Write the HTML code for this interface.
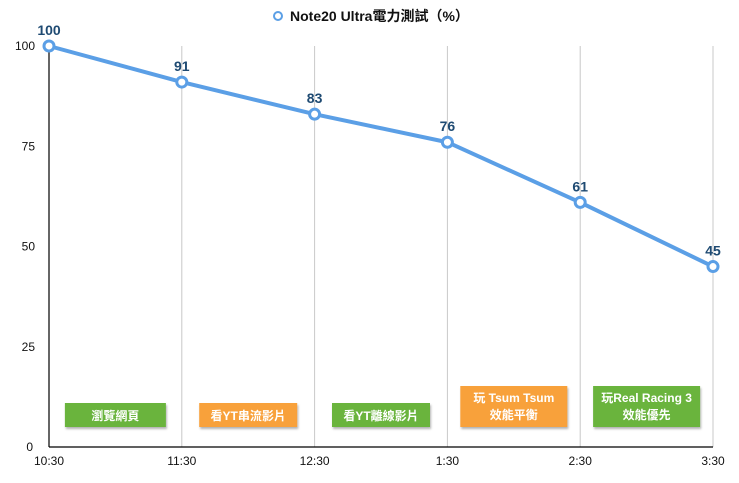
<!DOCTYPE html>
<html><head><meta charset="utf-8"><style>
body{margin:0;background:#fff;}
svg text{font-family:"Liberation Sans","Noto Sans CJK TC",sans-serif;}
</style></head><body>
<svg width="739" height="478" viewBox="0 0 739 478">
<defs><filter id="sh" x="-10%" y="-10%" width="130%" height="140%"><feDropShadow dx="1" dy="2" stdDeviation="1" flood-opacity="0.3"/></filter></defs>
<g id="legend">
<circle cx="278" cy="16" r="4" fill="#fff" stroke="#5b9fe6" stroke-width="2"/>
<text x="290" y="21" font-size="14" font-weight="bold" fill="#111">Note20 Ultra電力測試（%）</text>
</g>
<g id="grid"></g><g id="axes"></g><g id="boxes"></g><g id="series"></g>
</svg>
<script>
const categories=["10:30","11:30","12:30","1:30","2:30","3:30"];
const values=[100,91,83,76,61,45];
const yTicks=[0,25,50,75,100];
const notes=[["瀏覽網頁"],["看YT串流影片"],["看YT離線影片"],["玩 Tsum Tsum","效能平衡"],["玩Real Racing 3","效能優先"]];
const noteColors=["#6ab43e","#f8a13a","#6ab43e","#f8a13a","#6ab43e"];
const NS="http://www.w3.org/2000/svg";
const x0=49,x1=713,y0=447,y1=46;
const xs=i=>x0+(x1-x0)*i/(categories.length-1);
const ys=v=>y0-(y0-y1)*v/100;
function mk(t,a,p,txt){const e=document.createElementNS(NS,t);for(const k in a)e.setAttribute(k,a[k]);if(txt!=null)e.textContent=txt;p.appendChild(e);return e;}
const grid=document.getElementById('grid'),axes=document.getElementById('axes'),boxes=document.getElementById('boxes'),ser=document.getElementById('series');
categories.forEach((c,i)=>{
 if(i>0){const g=mk('line',{x1:xs(i),x2:xs(i),y1:y1,y2:y0,stroke:'#c8c8c8','stroke-width':1},grid);
 
 }
 const t=mk('text',{x:xs(i),y:y0+18,'font-size':12,'text-anchor':'middle',fill:'#111'},axes,c);
 
 
});
yTicks.forEach(v=>{const t=mk('text',{x:v===0?33:35,y:ys(v)+4,'font-size':12,'text-anchor':'end',fill:'#111'},axes,v);
 
 });
const ya=mk('line',{x1:x0,x2:x0,y1:y1,y2:y0,stroke:'#000','stroke-width':1.2},axes);


const xa=mk('line',{x1:x0,x2:x1,y1:y0,y2:y0,stroke:'#000','stroke-width':1.2},axes);


notes.forEach((n,i)=>{
 const cx=(xs(i)+xs(i+1))/2,w=n.length>1?107:(n[0].length>5?98:101),h=n.length>1?41:24;
 const g=mk('g',{},boxes);
 
 
 mk('rect',{x:cx-w/2,y:427-h,width:w,height:h,fill:noteColors[i],filter:'url(#sh)'},g);
 n.forEach((s,j)=>mk('text',{x:cx,y:n.length>1?402+j*17:420,'font-size':12,'font-weight':'bold','text-anchor':'middle',fill:'#fff'},g,s));
});
const pts=values.map((v,i)=>xs(i)+','+ys(v)).join(' ');
const pl=mk('polyline',{points:pts,fill:'none',stroke:'#5b9fe6','stroke-width':4,'stroke-linejoin':'round'},ser);


values.forEach((v,i)=>{
 const c=mk('circle',{cx:xs(i),cy:ys(v),r:5,fill:'#fff',stroke:'#5b9fe6','stroke-width':3},ser);
 
 
 const t=mk('text',{x:xs(i),y:ys(v)-11,'font-size':14,'font-weight':'bold','text-anchor':'middle',fill:'#1e4a72'},ser,v);
 
 
});
</script>
</body></html>
